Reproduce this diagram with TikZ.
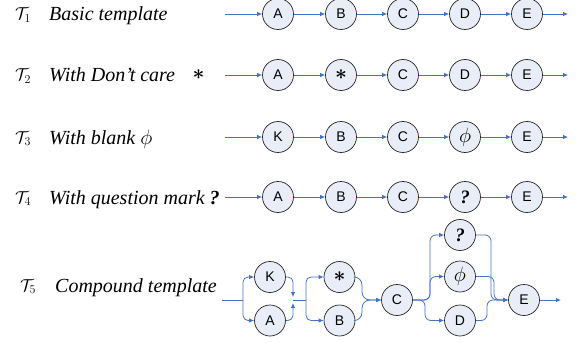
\documentclass[tikz,border=0pt]{standalone}
\usepackage{fontspec}
\setmainfont{Liberation Serif}
\newfontfamily\nodefont{Liberation Sans}
\usepackage{bm}
\usetikzlibrary{arrows.meta}
\definecolor{nodefill}{RGB}{232,237,247}
\definecolor{lineblue}{RGB}{68,114,196}
\begin{document}
\begin{tikzpicture}[x=1pt,y=-1pt,
  st/.style={circle, draw=black!85, line width=0.7pt, fill=nodefill, minimum size=31pt, inner sep=0pt, font=\nodefont\fontsize{14}{14}\selectfont},
  arr/.style={draw=lineblue, line width=0.8pt, -{Latex[length=5pt,width=4.5pt]}},
  ln/.style={draw=lineblue, line width=0.8pt},
  lbl/.style={anchor=base west, inner sep=0pt, font=\fontsize{20}{21}\selectfont\itshape},
  tl/.style={anchor=base west, inner sep=0pt, font=\fontsize{16.5}{18}\selectfont},
  sym/.style={font=\fontsize{22}{22}\selectfont},
  phis/.style={font=\fontsize{21}{21}\selectfont},
  qs/.style={font=\fontsize{19}{19}\selectfont\bfseries\itshape}
]
\useasboundingbox (0,0) rectangle (577,342);

% ---------- labels ----------
\node[tl] (T1) at (15,20) {$\mathcal{T}_1$};
\node[lbl] (L1) at (49,21) {Basic template};
\node[tl] (T2) at (15,81) {$\mathcal{T}_2$};
\node[lbl] (L2) at (49,82) {With Don’t care};
\node[inner sep=0pt, font=\fontsize{20}{20}\selectfont] (L2s) at (198.5,75) {$\bm{\ast}$};
\node[tl] (T3) at (15,143) {$\mathcal{T}_3$};
\node[lbl] (L3) at (49,144) {With blank {\fontsize{22}{22}\selectfont$\phi$}};
\node[tl] (T4) at (15,203) {$\mathcal{T}_4$};
\node[lbl] (L4) at (49,204) {With question mark \textbf{?}};
\node[tl] (T5) at (20,291) {$\mathcal{T}_5$};
\node[lbl] (L5) at (55,292) {Compound template};

% ---------- rows 1-4 ----------
\coordinate (s1) at (225,14);  \coordinate (t1) at (568,14);
\node[st] (a1) at (278,14) {A};
\node[st] (b1) at (341,14) {B};
\node[st] (c1) at (403,14) {C};
\node[st] (d1) at (465,14) {D};
\node[st] (e1) at (527,14) {E};

\coordinate (s2) at (225,75);  \coordinate (t2) at (568,75);
\node[st] (a2) at (278,75) {A};
\node[st,sym] (b2) at (341,75) {$\bm{\ast}$};
\node[st] (c2) at (403,75) {C};
\node[st] (d2) at (465,75) {D};
\node[st] (e2) at (527,75) {E};

\coordinate (s3) at (225,137);  \coordinate (t3) at (568,137);
\node[st] (a3) at (278,137) {K};
\node[st] (b3) at (341,137) {B};
\node[st] (c3) at (403,137) {C};
\node[st,phis] (d3) at (465,137) {$\phi$};
\node[st] (e3) at (527,137) {E};

\coordinate (s4) at (225,197);  \coordinate (t4) at (568,197);
\node[st] (a4) at (278,197) {A};
\node[st] (b4) at (341,197) {B};
\node[st] (c4) at (403,197) {C};
\node[st,qs] (d4) at (465,197) {?};
\node[st] (e4) at (527,197) {E};

\foreach \r in {1,2,3,4}{
  \draw[arr] (s\r) -- (a\r);
  \draw[arr] (a\r) -- (b\r);
  \draw[arr] (b\r) -- (c\r);
  \draw[arr] (c\r) -- (d\r);
  \draw[arr] (d\r) -- (e\r);
  \draw[arr] (e\r) -- (t\r);
}

% ---------- compound row ----------
\node[st] (K5) at (270,277) {K};
\node[st] (A5) at (270,320.5) {A};
\node[st,sym] (S5) at (339.5,277) {$\bm{\ast}$};
\node[st] (B5) at (339.5,320.5) {B};
\node[st] (C5) at (397,300) {C};
\node[st,qs] (Q5) at (460,235) {?};
\node[st,phis] (P5) at (460,276.5) {$\phi$};
\node[st] (D5) at (460,320.5) {D};
\node[st] (E5) at (524,300) {E};

\coordinate (in5) at (222,300);
\coordinate (br1) at (243,300);
\coordinate (j1) at (293,300);
\coordinate (j2) at (306,300);
\coordinate (out5) at (561,300);

\draw[ln] (in5) -- (br1);
\draw[arr, rounded corners=5pt] (br1) |- (K5.west);
\draw[arr, rounded corners=5pt] (br1) |- (A5.west);
\draw[arr, rounded corners=5pt] (K5.east) -| ([yshift=3pt]j1);
\draw[arr, rounded corners=5pt] (A5.east) -| ([yshift=-3pt]j1);
\draw[ln] (j1) -- (j2);
\draw[arr, rounded corners=5pt] (j2) |- (S5.west);
\draw[arr, rounded corners=5pt] (j2) |- (B5.west);

\draw[arr, rounded corners=8pt] (S5.east) -| (362,300) -- (C5.west);
\draw[arr, rounded corners=8pt] (B5.east) -| (362,300) -- (C5.west);

\draw[arr, rounded corners=6pt] (C5.east) -- (430,300) |- (Q5.west);
\draw[arr, rounded corners=6pt] (C5.east) -- (430,300) |- (P5.west);
\draw[arr, rounded corners=6pt] (C5.east) -- (425,300) |- (D5.west);

\draw[arr, rounded corners=6pt] (Q5.east) -| (491,300) -- (E5.west);
\draw[arr, rounded corners=6pt] (P5.east) -| (494,300) -- (E5.west);
\draw[arr, rounded corners=6pt] (D5.east) -| (487,300) -- (E5.west);

\draw[arr] (E5) -- (out5);
\end{tikzpicture}
\end{document}
